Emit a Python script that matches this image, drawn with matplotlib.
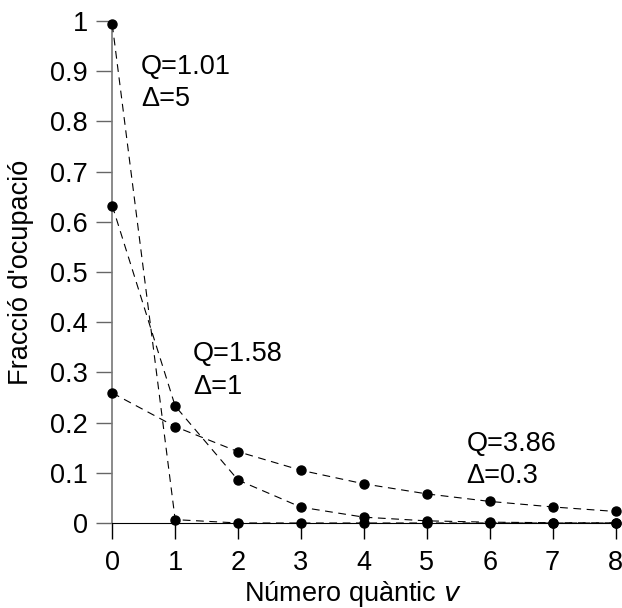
import matplotlib
matplotlib.use("Agg")
import matplotlib.pyplot as plt

v = [0, 1, 2, 3, 4, 5, 6, 7, 8]
pop_d5 = [0.993, 0.0067, 0.00005, 0.0, 0.0, 0.0, 0.0, 0.0, 0.0]
pop_d1 = [0.632, 0.233, 0.0855, 0.0315, 0.0116, 0.0043, 0.0016, 0.0006, 0.0002]
pop_d03 = [0.259, 0.192, 0.142, 0.105, 0.078, 0.058, 0.043, 0.032, 0.023]
q_labels = ["Q=1.01", "Q=1.58", "Q=3.86"]
d_labels = ["\u0394=5", "\u0394=1", "\u0394=0.3"]
q_pos = [(0.456, 0.908), (1.28, 0.337), (5.63, 0.158)]
d_pos = [(0.456, 0.844), (1.28, 0.271), (5.63, 0.093)]

plt.rcParams['font.family'] = ['Liberation Sans', 'DejaVu Sans']
FS = 19.5
fig = plt.figure(figsize=(6.22, 6.08), dpi=100)
ax = fig.add_axes([0.1805, 0.1398, 0.8091, 0.8257])

for pops in (pop_d5, pop_d1, pop_d03):
    ax.plot(v, pops, linestyle=(0, (7, 5)), color='black', linewidth=0.8,
            marker='o', markersize=6.5, clip_on=False, zorder=3)

for txt, (x, y) in zip(q_labels, q_pos):
    ax.text(x, y, txt, fontsize=FS, ha='left', va='center')
for txt, (x, y) in zip(d_labels, d_pos):
    ax.text(x, y, txt, fontsize=FS, ha='left', va='center')

ax.set_xlim(0, 8)
ax.set_ylim(0, 1)
ax.set_xticks(v)
ax.set_yticks([0, 0.1, 0.2, 0.3, 0.4, 0.5, 0.6, 0.7, 0.8, 0.9, 1])
ax.set_yticklabels(['0', '0.1', '0.2', '0.3', '0.4', '0.5', '0.6', '0.7', '0.8', '0.9', '1'])
ax.spines['top'].set_visible(False)
ax.spines['right'].set_visible(False)
ax.spines['left'].set_color('#777777')
ax.spines['left'].set_linewidth(1.2)
ax.spines['bottom'].set_color('black')
ax.tick_params(axis='both', direction='out', length=11.5, width=1, labelsize=FS)
ax.tick_params(axis='y', colors='#666666', labelcolor='black', pad=6)
ax.tick_params(axis='x', pad=8)
ax.set_ylabel("Fracci\u00f3 d'ocupaci\u00f3", fontsize=FS)
ax.yaxis.set_label_coords(-0.156, 0.5, transform=ax.transAxes)
ax.set_xlabel("N\u00famero qu\u00e0ntic $\\it{v}$", fontsize=FS)
ax.xaxis.set_label_coords(0.478, -0.112, transform=ax.transAxes)
ax.xaxis.label.set_va('top')

fig.savefig("out.png", dpi=100)
